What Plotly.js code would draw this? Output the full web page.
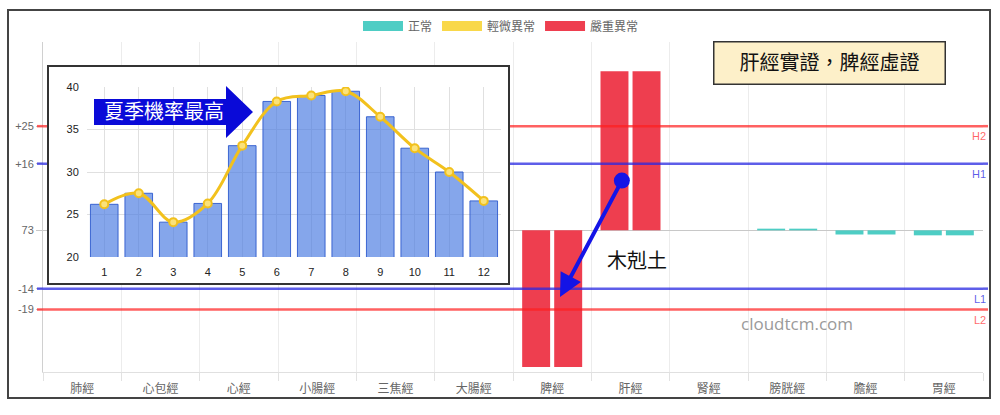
<!DOCTYPE html>
<html>
<head>
<meta charset="utf-8">
<script src="https://cdn.plot.ly/plotly-3.0.1.min.js"></script>
<style>
  html, body { margin: 0; padding: 0; background: #fff; }
  #chart { width: 1000px; height: 415px; }
</style>
</head>
<body>
<div id="chart"></div>
<script>
// main chart: two readings per meridian
const meridians = ["肺經", "心包經", "心經", "小腸經", "三焦經", "大腸經", "脾經", "肝經", "腎經", "膀胱經", "膽經", "胃經"];
const leftValues = [0, 0, 0, 0, 0, 0, -32.8, 38.2, 0, 0.4, -1.0, -1.2];
const rightValues = [0, 0, 0, 0, 0, 0, -32.8, 38.2, 0, 0.4, -1.0, -1.2];
const leftStatus = ["正常", "正常", "正常", "正常", "正常", "正常", "嚴重異常", "嚴重異常", "正常", "正常", "正常", "正常"];
const rightStatus = ["正常", "正常", "正常", "正常", "正常", "正常", "嚴重異常", "嚴重異常", "正常", "正常", "正常", "正常"];

const statusNames = ["正常", "輕微異常", "嚴重異常"];
const statusColors = ["#4ecdc4", "#f9d84a", "#ee3e4f"];

const thresholdNames = ["H2", "H1", "L1", "L2"];
const thresholdValues = [25, 16, -14, -19];
const thresholdColors = ["rgba(255,30,30,0.7)", "rgba(40,40,225,0.75)", "rgba(40,40,225,0.75)", "rgba(255,30,30,0.7)"];

const yTickValues = [25, 16, 0, -14, -19];
const yTickLabels = ["+25", "+16", "73", "-14", "-19"];

// inset: monthly rate
const months = ["1", "2", "3", "4", "5", "6", "7", "8", "9", "10", "11", "12"];
const monthRates = [26.2, 27.5, 24.1, 26.3, 33.1, 38.3, 39.0, 39.5, 36.5, 32.8, 30.0, 26.6];

// pixel -> paper helpers (plot area is 43..983 x 42..372)
const W = 1000, H = 415, ML = 43, MR = 17, MT = 42, MB = 43;
const pw = W - ML - MR, ph = H - MT - MB;
function px(x) { return (x - ML) / pw; }
function py(y) { return (H - MB - y) / ph; }

const FONT = "Liberation Sans, Noto Sans CJK TC, sans-serif";
const colorOf = s => statusColors[statusNames.indexOf(s)];

const traces = [];

traces.push({
  type: "bar", x: meridians, y: leftValues, xaxis: "x", yaxis: "y",
  marker: { color: leftStatus.map(colorOf) },
  width: 0.357, offset: -0.383, showlegend: false, hoverinfo: "x+y"
});
traces.push({
  type: "bar", x: meridians, y: rightValues, xaxis: "x", yaxis: "y",
  marker: { color: rightStatus.map(colorOf) },
  width: 0.357, offset: 0.026, showlegend: false, hoverinfo: "x+y"
});

// threshold lines on an overlaid linear x axis
for (let i = 0; i < thresholdValues.length; i++) {
  traces.push({
    type: "scatter", mode: "lines", x: [0, 1], y: [thresholdValues[i], thresholdValues[i]],
    xaxis: "x4", yaxis: "y", line: { color: thresholdColors[i], width: 2.5 },
    showlegend: false, hoverinfo: "skip"
  });
}

// inset frame subplot (white bg, dark border)
traces.push({ type: "scatter", x: [], y: [], xaxis: "x2", yaxis: "y2", showlegend: false, hoverinfo: "skip" });

// legend entries
for (let i = 0; i < statusNames.length; i++) {
  traces.push({
    type: "scatter", mode: "lines", x: [null], y: [null], xaxis: "x2", yaxis: "y2",
    name: statusNames[i], line: { color: statusColors[i], width: 12 }, hoverinfo: "skip"
  });
}

// inset chart
traces.push({
  type: "bar", x: months, y: monthRates, xaxis: "x3", yaxis: "y3", width: 0.8,
  marker: { color: "rgba(70,120,225,0.66)", line: { color: "rgba(45,90,205,0.9)", width: 1 } },
  showlegend: false
});
traces.push({
  type: "scatter", mode: "lines+markers", x: months, y: monthRates, xaxis: "x3", yaxis: "y3",
  line: { color: "#f2c11d", width: 3, shape: "spline" },
  marker: { size: 8, color: "#fbe27a", line: { color: "#f2c11d", width: 2 } },
  showlegend: false
});

const shapes = [];
// outer frame
shapes.push({
  type: "rect", xref: "paper", yref: "paper", layer: "below",
  x0: px(8), x1: px(990), y0: py(398), y1: py(10),
  line: { color: "#444", width: 2 }
});
// threshold stubs outside the plot area
for (let i = 0; i < thresholdValues.length; i++) {
  shapes.push({ type: "line", xref: "paper", yref: "y", layer: "above",
    x0: px(37), x1: 0, y0: thresholdValues[i], y1: thresholdValues[i],
    line: { color: thresholdColors[i], width: 2.5 } });
  shapes.push({ type: "line", xref: "paper", yref: "y", layer: "above",
    x0: 1, x1: px(988), y0: thresholdValues[i], y1: thresholdValues[i],
    line: { color: thresholdColors[i], width: 2.5 } });
}
// block arrow behind 夏季機率最高
const arrowPts = [[94, 99], [226, 99], [226, 86], [253, 112], [226, 138], [226, 125], [94, 125]];
shapes.push({
  type: "path", xref: "paper", yref: "paper", layer: "above",
  path: "M" + arrowPts.map(p => px(p[0]) + "," + py(p[1])).join("L") + "Z",
  fillcolor: "#0a0ad8", line: { width: 0 }
});

const annotations = [];
for (let i = 0; i < thresholdNames.length; i++) {
  annotations.push({
    xref: "paper", yref: "y", x: px(988), y: thresholdValues[i], xanchor: "right", yanchor: "top",
    yshift: -2, text: thresholdNames[i], showarrow: false,
    font: { family: FONT, size: 11, color: thresholdColors[i] }
  });
}
annotations.push({
  xref: "paper", yref: "paper", x: px(164), y: py(112), xanchor: "center", yanchor: "middle",
  text: "夏季機率最高", showarrow: false,
  font: { family: FONT, size: 20, color: "#fff" }
});
annotations.push({
  xref: "paper", yref: "paper", x: px(829), y: py(63), xanchor: "center", yanchor: "middle",
  text: "肝經實證，脾經虛證", showarrow: false,
  width: 230, height: 41, bgcolor: "#fdf0c9", bordercolor: "#333", borderwidth: 1.5, borderpad: 0,
  font: { family: FONT, size: 20, color: "#111" }
});
annotations.push({
  xref: "x", yref: "y", x: 6.1, y: -16, axref: "x", ayref: "y", ax: 6.9, ay: 12.3,
  text: "", showarrow: true, arrowside: "end+start", arrowhead: 2, arrowsize: 1.15,
  startarrowhead: 6, startarrowsize: 1, arrowwidth: 4, arrowcolor: "#1414e6"
});
annotations.push({
  xref: "paper", yref: "paper", x: px(637), y: py(261), xanchor: "center", yanchor: "middle",
  text: "木剋土", showarrow: false,
  font: { family: FONT, size: 20, color: "#111" }
});
annotations.push({
  xref: "paper", yref: "paper", x: px(797), y: py(323), xanchor: "center", yanchor: "middle",
  text: "cloudtcm.com", showarrow: false,
  font: { family: "Open Sans, sans-serif", size: 17, color: "#9a9a9a" }
});

const frameAxis = {
  range: [0, 1], showline: true, mirror: true, linecolor: "#333", linewidth: 2,
  showgrid: false, zeroline: false, showticklabels: false, ticks: "", fixedrange: true
};

const layout = {
  width: W, height: H,
  margin: { l: ML, r: MR, t: MT, b: MB, pad: 0 },
  paper_bgcolor: "#fff", plot_bgcolor: "#fff",
  font: { family: FONT, color: "#666" },
  bargap: 0.2,
  showlegend: true,
  legend: {
    orientation: "h", x: px(501), xanchor: "center", y: py(26), yanchor: "middle",
    font: { family: FONT, size: 12, color: "#666" }, itemwidth: 40, bgcolor: "rgba(0,0,0,0)"
  },
  xaxis: {
    domain: [0, 1], type: "category", categoryarray: meridians, range: [-0.5, 11.5],
    tickson: "boundaries", ticks: "outside", ticklen: 8, tickcolor: "#e2e2e2",
    showgrid: true, gridcolor: "#ececec", showline: true, linecolor: "#e0e0e0",
    ticklabelstandoff: 6,
    tickfont: { size: 12, color: "#666" }, fixedrange: true
  },
  yaxis: {
    range: [-34, 45.2], tickmode: "array", tickvals: yTickValues, ticktext: yTickLabels,
    showgrid: false, zeroline: true, zerolinecolor: "#c8c8c8", zerolinewidth: 1,
    showline: true, linecolor: "#d0d0d0", ticks: "outside", ticklen: 6, tickcolor: "#c8c8c8",
    tickfont: { size: 11, color: "#666" }, fixedrange: true
  },
  xaxis2: Object.assign({ domain: [px(49), px(508)], anchor: "y2" }, frameAxis),
  yaxis2: Object.assign({ domain: [py(283), py(67)], anchor: "x2" }, frameAxis),
  xaxis3: {
    domain: [px(87), px(501)], anchor: "y3", type: "category", range: [-0.5, 11.5],
    showgrid: true, gridcolor: "#e0e0e0",
    ticks: "outside", ticklen: 5, tickcolor: "rgba(0,0,0,0)", zeroline: false,
    tickfont: { size: 11, color: "#222" }, fixedrange: true
  },
  yaxis3: {
    domain: [py(257), py(87)], anchor: "x3", range: [20, 40], tick0: 20, dtick: 5,
    showgrid: true, gridcolor: "#e0e0e0", zeroline: false,
    ticks: "outside", ticklen: 5, tickcolor: "rgba(0,0,0,0)",
    tickfont: { size: 11, color: "#222" }, fixedrange: true
  },
  xaxis4: { overlaying: "x", range: [0, 1], visible: false, fixedrange: true },
  shapes: shapes,
  annotations: annotations
};

Plotly.newPlot("chart", traces, layout, { displayModeBar: false, staticPlot: true });
</script>
</body>
</html>
